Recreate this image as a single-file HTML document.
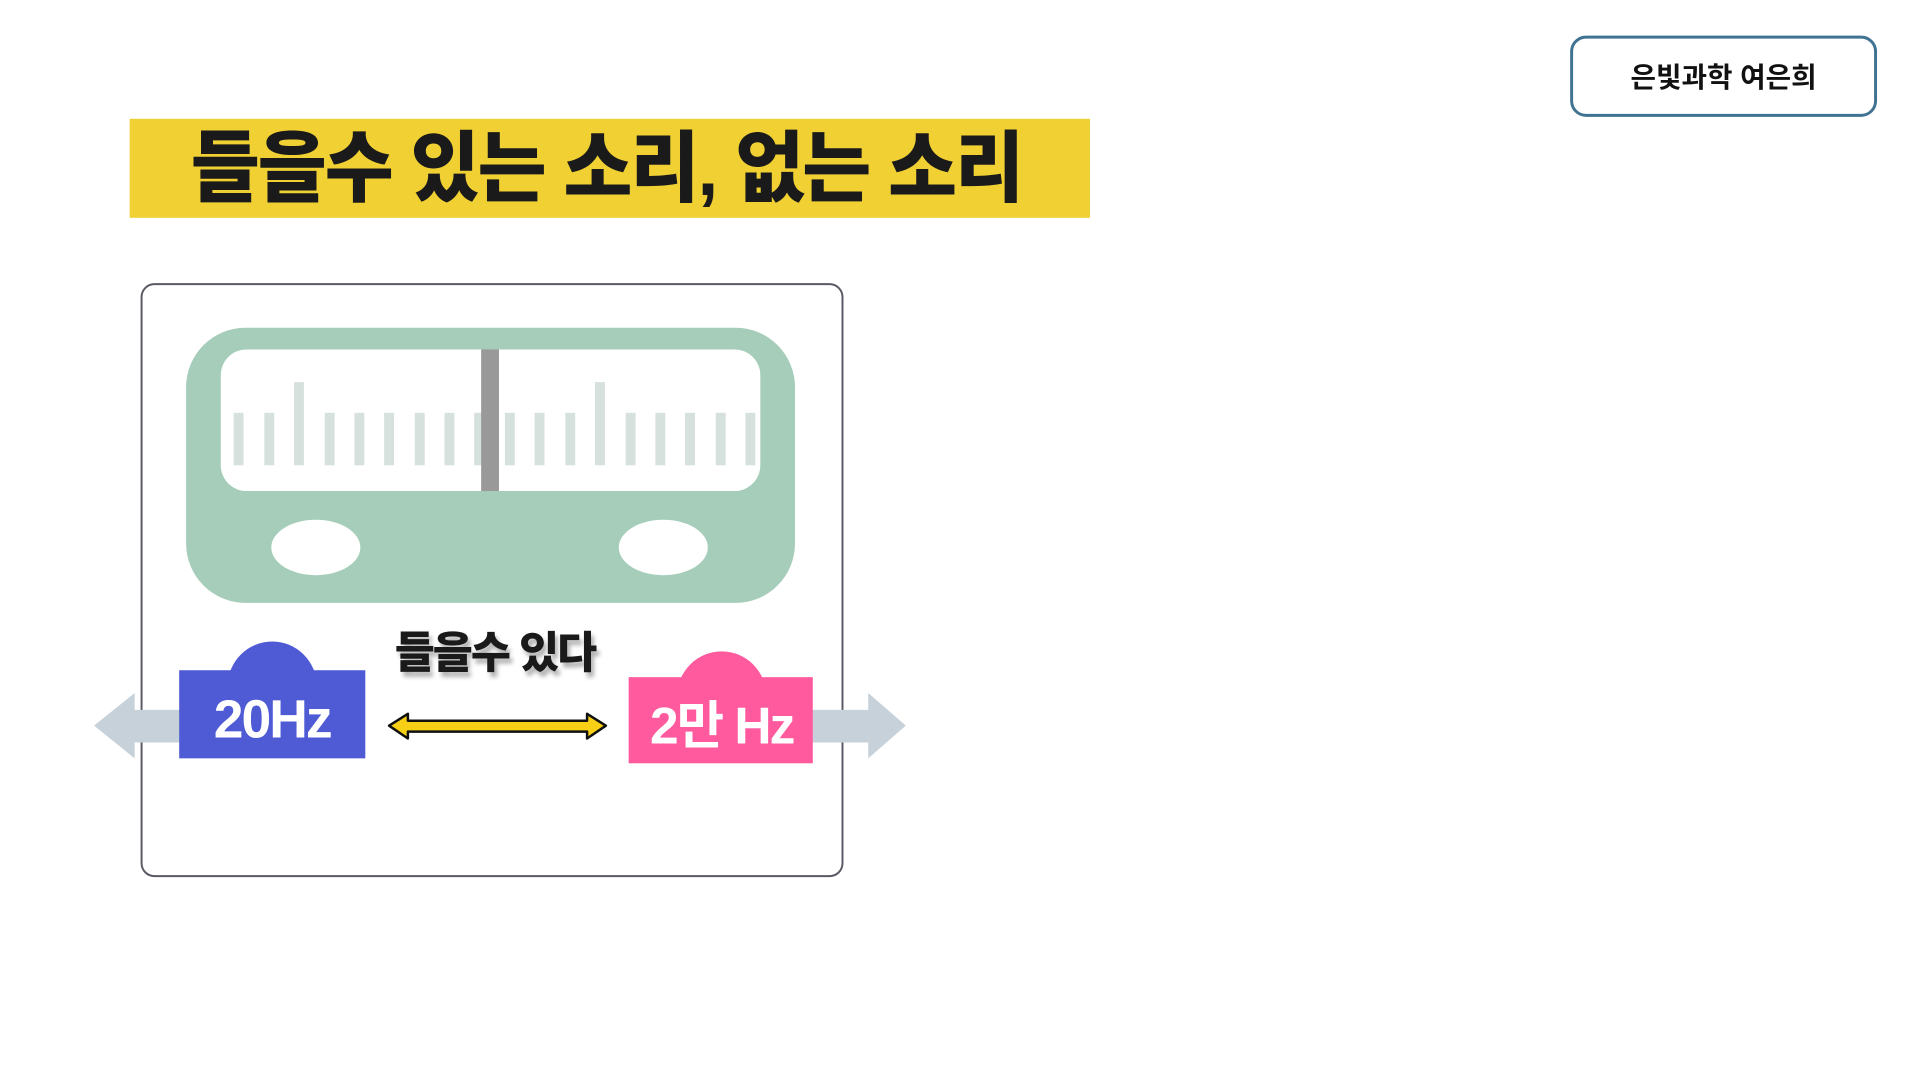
<!DOCTYPE html>
<html><head><meta charset="utf-8"><style>
body{margin:0;width:1920px;height:1080px;background:#fff;position:relative;overflow:hidden;font-family:"Liberation Sans","Noto Sans CJK KR",sans-serif}
.w{position:absolute;left:0;top:0;width:1920px;height:1080px;transform:scale(0.99);transform-origin:0 0}
.a{position:absolute}
</style></head><body><div class="w">
<div class="a" style="left:1586px;top:36px;width:304px;height:76px;border:3px solid #3f7391;border-radius:16px;display:flex;align-items:center;justify-content:center;font-size:28px;font-weight:bold;color:#111">은빛과학 여은희</div>
<div class="a" style="left:131px;top:120px;width:970px;height:100px;background:#f0d033"></div>
<div class="a" style="left:180px;top:120px;width:844px;height:100px;line-height:100px;font-size:78px;font-weight:900;color:#1a1a1a;white-space:nowrap;text-align:center;letter-spacing:-2px;transform:scaleX(0.97);transform-origin:center">들을수 있는 소리, 없는 소리</div>
<div class="a" style="left:142px;top:286px;width:706px;height:596px;border:2px solid #5a5a66;border-radius:14px"></div>
<svg class="a" style="left:0;top:0" width="1920" height="1080">
<rect x="188" y="331" width="615" height="278" rx="60" fill="#a5cdb9"/>
<rect x="223" y="353" width="545" height="143" rx="26" fill="#fff"/>
<g fill="#d6e0dc">
<rect x="236" y="417" width="10" height="53"/><rect x="267" y="417" width="10" height="53"/><rect x="297" y="386" width="10" height="84"/><rect x="328" y="417" width="10" height="53"/><rect x="358" y="417" width="10" height="53"/><rect x="388" y="417" width="10" height="53"/><rect x="419" y="417" width="10" height="53"/><rect x="449" y="417" width="10" height="53"/><rect x="479" y="417" width="10" height="53"/><rect x="510" y="417" width="10" height="53"/><rect x="540" y="417" width="10" height="53"/><rect x="571" y="417" width="10" height="53"/><rect x="601" y="386" width="10" height="84"/><rect x="632" y="417" width="10" height="53"/><rect x="662" y="417" width="10" height="53"/><rect x="692" y="417" width="10" height="53"/><rect x="723" y="417" width="10" height="53"/><rect x="753" y="417" width="10" height="53"/>
</g>
<rect x="486" y="353" width="18" height="143" fill="#999"/>
<ellipse cx="319" cy="553" rx="45" ry="28" fill="#fff"/>
<ellipse cx="670" cy="553" rx="45" ry="28" fill="#fff"/>
<polygon points="95,733 136,700 136,717 190,717 190,750 136,750 136,766" fill="#c6d1da"/>
<polygon points="915,733 877,700 877,717 810,717 810,750 877,750 877,766" fill="#c6d1da"/>
<circle cx="275" cy="693" r="45" fill="#4f5bd5"/>
<rect x="181" y="677" width="188" height="89" fill="#4f5bd5"/>
<circle cx="729" cy="703" r="45" fill="#ff5a9e"/>
<rect x="635" y="684" width="186" height="87" fill="#ff5a9e"/>
<polygon points="393,733 412,721 412,728 593,728 593,721 612,733 593,746 593,739 412,739 412,746" fill="#f7cf14" stroke="#111" stroke-width="2.5" stroke-linejoin="round"/>
<text x="275" y="745" fill="#fff" font-size="54" font-weight="bold" text-anchor="middle" font-family="Liberation Sans,Noto Sans CJK KR,sans-serif" letter-spacing="-2">20Hz</text>
<text x="729" y="751" fill="#fff" font-size="52" font-weight="bold" text-anchor="middle" font-family="Liberation Sans,Noto Sans CJK KR,sans-serif" letter-spacing="-2">2만 Hz</text>
<text x="500" y="675" fill="#1a1a1a" font-size="44" font-weight="900" text-anchor="middle" font-family="Liberation Sans,Noto Sans CJK KR,sans-serif" letter-spacing="-2" style="text-shadow:3px 5px 4px rgba(0,0,0,0.3)">들을수 있다</text>
</svg>
</div></body></html>
